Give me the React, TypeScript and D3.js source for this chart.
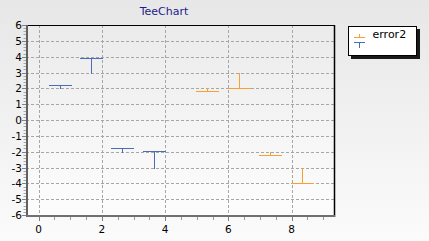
import React from "react";
import * as d3 from "d3";

const blueX = [0.66, 1.66, 2.65, 3.66];
const blueY = [2.2, 3.9, -1.8, -1.95];
const blueErrDown = [0.2, 0.9, 0.2, 1.05];

const orangeX = [5.32, 6.33, 7.32, 8.33];
const orangeY = [1.83, 2.0, -2.2, -4.0];
const orangeErrUp = [0.17, 1.0, 0.2, 1.0];

const yTicks = [6, 5, 4, 3, 2, 1, 0, -1, -2, -3, -4, -5, -6];
const xTicks = [0, 2, 4, 6, 8];
const legendTitle = "error2";
const chartTitle = "TeeChart";

const W = 429, H = 241;
const L = 26, R = 334, T = 25, B = 215;
const BLUE = "#4a6db5";
const ORANGE = "#f7a133";
const FONT = "DejaVu Sans, Verdana, sans-serif";

export default function App() {
  const x = d3.scaleLinear().domain([-0.4, 9.34]).range([L, R]);
  const y = d3.scaleLinear().domain([-6, 6]).range([B, T]);
  const hw = 11;
  const minorX = d3.range(-0.0, 9.01, 0.5).filter((v) => !xTicks.includes(v));
  const minorY = d3.range(-6, 6.001, 0.2).map((v) => Math.round(v * 10) / 10).filter((v) => !Number.isInteger(v));
  const cx = (v: number) => Math.round(x(v)) + 0.5;
  const cy = (v: number) => Math.round(y(v)) + 0.5;

  return (
    <svg width={W} height={H} style={{ position: "absolute", left: 0, top: 0 }} fontFamily={FONT}>
      <defs>
        <linearGradient id="bg" x1="0" y1="0" x2="0" y2="1">
          <stop offset="0" stopColor="#e7e7e7" />
          <stop offset="1" stopColor="#fbfbfb" />
        </linearGradient>
        <linearGradient id="plotbg" x1="0" y1="0" x2="0" y2="1">
          <stop offset="0" stopColor="#ebebeb" />
          <stop offset="1" stopColor="#fdfdfd" />
        </linearGradient>
      </defs>
      <rect x={0} y={0} width={W} height={H} fill="url(#bg)" />
      <rect x={L} y={T} width={R - L} height={B - T} fill="url(#plotbg)" />
      <text x={164} y={15} textAnchor="middle" fontSize={11} fill="#1c1c8a">{chartTitle}</text>

      {/* grid */}
      {yTicks.map((v) => (
        <line key={"gy" + v} x1={L} x2={R} y1={cy(v)} y2={cy(v)} stroke="#a6a6a6" strokeDasharray="3,2" />
      ))}
      {xTicks.map((v) => (
        <line key={"gx" + v} x1={cx(v)} x2={cx(v)} y1={T} y2={B} stroke="#a6a6a6" strokeDasharray="3,2" />
      ))}

      {/* frame */}
      <line x1={L} x2={R + 0.5} y1={T + 0.5} y2={T + 0.5} stroke="#000" />
      <line x1={R + 0.5} x2={R + 0.5} y1={T} y2={B} stroke="#000" strokeWidth={1.5} />
      <line x1={L + 1} x2={L + 1} y1={T} y2={B + 2} stroke="#606060" strokeWidth={2} />
      <line x1={L} x2={R + 1.5} y1={B + 1} y2={B + 1} stroke="#707070" strokeWidth={2} />

      {/* y axis ticks */}
      {yTicks.map((v) => (
        <g key={"ty" + v}>
          <line x1={L - 4} x2={L} y1={cy(v)} y2={cy(v)} stroke="#808080" />
          <text x={22} y={y(v) + 4} textAnchor="end" fontSize={10.5} fill="#000">{v < 0 ? "-" + Math.abs(v) : v}</text>
        </g>
      ))}
      {minorY.map((v) => (
        <line key={"my" + v} x1={L - 2.5} x2={L} y1={cy(v)} y2={cy(v)} stroke="#a8a8a8" />
      ))}

      {/* x axis ticks */}
      {xTicks.map((v) => (
        <g key={"tx" + v}>
          <line x1={cx(v)} x2={cx(v)} y1={B + 2} y2={B + 6} stroke="#808080" />
          <text x={x(v)} y={233} textAnchor="middle" fontSize={10.5} fill="#000">{v}</text>
        </g>
      ))}
      {minorX.map((v) => (
        <line key={"mx" + v} x1={cx(v)} x2={cx(v)} y1={B + 2} y2={B + 5} stroke="#9a9a9a" />
      ))}

      {/* blue error bars (downward) */}
      {blueX.map((xv, i) => (
        <g key={"b" + i} stroke={BLUE} strokeWidth={1}>
          <line x1={Math.round(x(xv) - hw)} x2={Math.round(x(xv) + hw) + 1} y1={cy(blueY[i])} y2={cy(blueY[i])} />
          <line x1={cx(xv)} x2={cx(xv)} y1={cy(blueY[i])} y2={Math.round(y(blueY[i] - blueErrDown[i])) + 1} />
        </g>
      ))}

      {/* orange error bars (upward) */}
      {orangeX.map((xv, i) => (
        <g key={"o" + i} stroke={ORANGE} strokeWidth={1}>
          <line x1={Math.round(x(xv) - hw)} x2={Math.round(x(xv) + hw) + 1} y1={cy(orangeY[i])} y2={cy(orangeY[i])} />
          <line x1={cx(xv)} x2={cx(xv)} y1={cy(orangeY[i])} y2={Math.round(y(orangeY[i] + orangeErrUp[i]))} />
        </g>
      ))}

      {/* legend */}
      <rect x={351} y={29} width={69} height={30} fill="#1a1a1a" />
      <rect x={348.5} y={26.5} width={68} height={29} fill="#fff" stroke="#000" />
      <g stroke={ORANGE} strokeWidth={1}>
        <line x1={354} x2={365} y1={37.5} y2={37.5} />
        <line x1={359.5} x2={359.5} y1={34} y2={37.5} />
      </g>
      <g stroke={BLUE} strokeWidth={1}>
        <line x1={354} x2={365} y1={42.5} y2={42.5} />
        <line x1={359.5} x2={359.5} y1={42.5} y2={48} />
      </g>
      <text x={372.5} y={38} fontSize={11} fill="#000">{legendTitle}</text>
    </svg>
  );
}
